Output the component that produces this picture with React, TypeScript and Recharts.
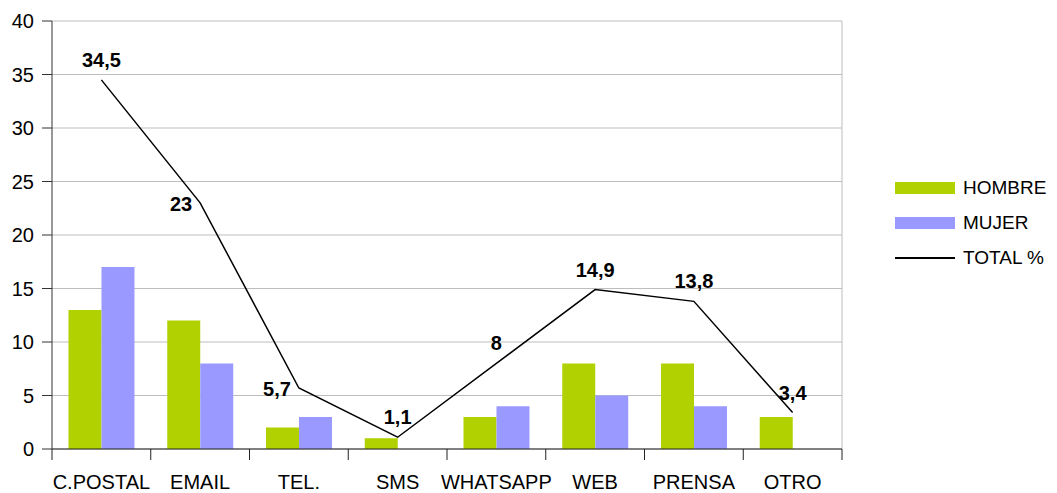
import { ComposedChart, Bar, Line, XAxis, YAxis, CartesianGrid, Legend, LabelList } from "recharts";

const categories = ["C.POSTAL", "EMAIL", "TEL.", "SMS", "WHATSAPP", "WEB", "PRENSA", "OTRO"];
const hombre = [13, 12, 2, 1, 3, 8, 8, 3];
const mujer = [17, 8, 3, 0, 4, 5, 4, 0];
const total = [34.5, 23, 5.7, 1.1, 8, 14.9, 13.8, 3.4];
const yTicks = [0, 5, 10, 15, 20, 25, 30, 35, 40];

// where each TOTAL label sits relative to its point
const labelSide = ["top", "left", "left", "top", "top", "top", "top", "top"];

const data = categories.map((name, i) => ({ name, hombre: hombre[i], mujer: mujer[i], total: total[i] }));

const FONT = "'Liberation Sans', Arial, sans-serif";
const TICK_MARGIN = 26;

function CategoryTick(props: any) {
  const { x, y, payload, index, visibleTicksCount } = props;
  const axisY = y - TICK_MARGIN;
  const half = payload.offset ?? 0;
  return (
    <g>
      <line x1={x - half} x2={x - half} y1={axisY} y2={axisY + 11} stroke="#222" />
      {index === visibleTicksCount - 1 && (
        <line x1={x + half} x2={x + half} y1={axisY} y2={axisY + 11} stroke="#222" />
      )}
      <text x={x} y={y} dy="0.71em" textAnchor="middle" fontSize={20} fontFamily={FONT} fill="#000">
        {payload.value}
      </text>
    </g>
  );
}

function TotalLabel(props: any) {
  const { x, y, value, index } = props;
  const text = String(value).replace(".", ",");
  if (labelSide[index] === "left") {
    return (
      <text x={x - 8} y={y + 1} textAnchor="end" dominantBaseline="central" fontSize={20} fontWeight="bold" fontFamily={FONT} fill="#000">
        {text}
      </text>
    );
  }
  return (
    <text x={x} y={y - 20} textAnchor="middle" dominantBaseline="central" fontSize={20} fontWeight="bold" fontFamily={FONT} fill="#000">
      {text}
    </text>
  );
}

function LegendBox({ payload }: any) {
  return (
    <div style={{ fontFamily: FONT, fontSize: 19, color: "#000" }}>
      {(payload || []).map((p: any) => (
        <div key={p.value} style={{ display: "flex", alignItems: "center", height: 35 }}>
          {p.type === "line" ? (
            <div style={{ width: 60, height: 2, background: "#000" }} />
          ) : (
            <div style={{ width: 60, height: 12, background: p.color }} />
          )}
          <span style={{ marginLeft: 8 }}>{p.value}</span>
        </div>
      ))}
    </div>
  );
}

export default function App() {
  return (
    <div style={{ position: "absolute", left: 0, top: 0, background: "#fff" }}>
      <ComposedChart
        width={1057}
        height={493}
        data={data}
        margin={{ top: 21, right: 215, bottom: 0, left: 0 }}
        barGap={0}
        barCategoryGap="16.7%"
      >
        <CartesianGrid
          stroke="#bdbdbd"
          verticalCoordinatesGenerator={({ offset }: any) => [offset.left + offset.width]}
        />
        <XAxis
          dataKey="name"
          height={44}
          tickLine={false}
          tickSize={0}
          tickMargin={TICK_MARGIN}
          axisLine={{ stroke: "#222" }}
          tick={<CategoryTick />}
          interval={0}
        />
        <YAxis
          width={52}
          domain={[0, 40]}
          ticks={yTicks}
          tickSize={10}
          tickMargin={8}
          axisLine={{ stroke: "#333" }}
          tickLine={{ stroke: "#333" }}
          tick={{ fontSize: 20, fontFamily: FONT, fill: "#000" }}
        />
        <Legend
          layout="horizontal"
          verticalAlign="middle"
          align="center"
          wrapperStyle={{ left: 895, top: 170, width: 162 }}
          content={<LegendBox />}
        />
        <Bar dataKey="hombre" name="HOMBRE" fill="#b2d100" isAnimationActive={false} legendType="rect" />
        <Bar dataKey="mujer" name="MUJER" fill="#9999ff" isAnimationActive={false} legendType="rect" />
        <Line
          dataKey="total"
          name="TOTAL %"
          type="linear"
          stroke="#000"
          strokeWidth={1.5}
          dot={false}
          activeDot={false}
          isAnimationActive={false}
          legendType="line"
        >
          <LabelList dataKey="total" content={<TotalLabel />} />
        </Line>
      </ComposedChart>
    </div>
  );
}
